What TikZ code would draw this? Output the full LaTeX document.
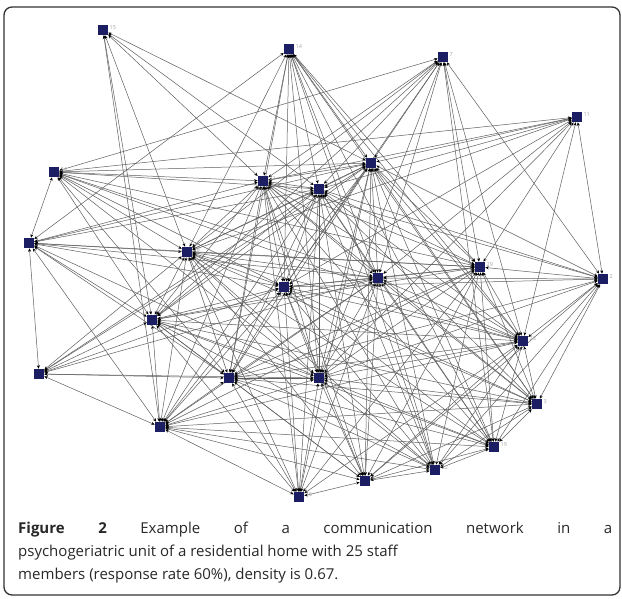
\documentclass[tikz,border=0pt]{standalone}
\usepackage{fontspec}
\setmainfont{Open Sans}
\usetikzlibrary{arrows.meta}
\definecolor{navy}{RGB}{28,30,100}
\definecolor{edgegray}{RGB}{95,95,95}
\definecolor{captxt}{RGB}{40,40,40}
\begin{document}
\begin{tikzpicture}[x=1pt,y=-1pt,
  nd/.style={minimum size=10pt,inner sep=0pt,outer sep=0.3pt,draw=none},
  lab/.style={font=\fontsize{5.5}{6}\selectfont,text=black!35,inner sep=0pt,anchor=west},
  edge/.style={draw=edgegray,line width=0.5pt,
    {Stealth[length=3.5pt,width=3pt,color=black]}-{Stealth[length=3.5pt,width=3pt,color=black]}},
  capt/.style={anchor=base west,inner sep=0pt,text=captxt,font=\fontsize{15}{17}\selectfont}]
\useasboundingbox (0,0) rectangle (622,599);
\fill[white] (0,0) rectangle (622,599);
\draw[line width=1.3pt,black!80,rounded corners=8pt] (4,7) rectangle (620,595);
% nodes
\node[nd] (n15) at (103,30) {};
\node[nd] (n14) at (289,49) {};
\node[nd] (n7)  at (443,57) {};
\node[nd] (n11) at (577,117) {};
\node[nd] (n24) at (54,172) {};
\node[nd] (n21) at (263,181) {};
\node[nd] (nA)  at (371,163) {};
\node[nd] (nB)  at (319,189) {};
\node[nd] (n5)  at (29,243) {};
\node[nd] (n18) at (187,252) {};
\node[nd] (nC)  at (378,278) {};
\node[nd] (nD)  at (284,287) {};
\node[nd] (n29) at (480,267) {};
\node[nd] (n2)  at (603,279) {};
\node[nd] (nE)  at (152,320) {};
\node[nd] (n23) at (523,341) {};
\node[nd] (nF)  at (39,374) {};
\node[nd] (nG)  at (229,378) {};
\node[nd] (n10) at (319,378) {};
\node[nd] (n3)  at (537,404) {};
\node[nd] (nH)  at (160,427) {};
\node[nd] (n19) at (494,447) {};
\node[nd] (n22) at (435,470) {};
\node[nd] (n4)  at (365,481) {};
\node[nd] (n16) at (299,497) {};
% central all-pairs edges
\foreach \a [count=\i] in {n21,nA,nB,n18,nC,nD,n29,nE,n23,nG,n10,n3,nH,n19,n22,n4}{
  \foreach \b [count=\j] in {n21,nA,nB,n18,nC,nD,n29,nE,n23,nG,n10,n3,nH,n19,n22,n4}{
    \ifnum\j>\i \draw[edge] (\a) -- (\b);\fi
  }
}
% peripheral edges
\foreach \a/\b in {
  n15/n18,n15/nE,n15/n21,n15/nB,n15/nA,n15/nH,
  n14/n5,n14/n21,n14/nB,n14/nA,n14/nD,n14/nC,n14/n10,n14/nG,n14/n18,n14/n29,n14/n23,n14/n3,n14/n22,n14/n19,
  n7/n21,n7/nB,n7/nA,n7/nD,n7/nC,n7/n18,n7/n10,n7/n29,n7/n23,n7/n2,n7/n19,n7/nE,n7/n24,
  n11/n21,n11/nA,n11/nB,n11/nC,n11/nD,n11/n29,n11/n23,n11/n2,n11/n10,n11/n18,n11/n24,
  n24/n5,n24/n21,n24/nB,n24/nA,n24/nC,n24/n18,n24/nD,n24/nE,n24/nG,n24/n10,n24/n29,n24/n23,
  n5/nF,n5/n21,n5/nB,n5/nA,n5/nC,n5/n18,n5/nE,n5/nG,n5/n10,n5/nH,n5/n29,n5/nD,
  nF/nE,nF/n18,nF/nG,nF/nH,nF/nD,nF/nB,nF/nA,nF/n10,nF/nC,
  n16/nH,n16/nG,n16/n10,n16/nE,n16/nD,n16/nC,n16/n18,n16/n21,n16/nB,n16/n29,n16/n23,n16/n4,n16/nA,
  n2/n29,n2/n23,n2/n3,n2/n19,n2/nC,n2/nA,n2/nB,n2/n21,n2/n10,n2/n22,n2/n4,n2/nD,n2/nG}
  \draw[edge] (\a) -- (\b);
% squares on top
\foreach \n in {n15,n14,n7,n11,n24,n21,nA,nB,n5,n18,nC,nD,n29,n2,nE,n23,nF,nG,n10,n3,nH,n19,n22,n4,n16}
  \fill[navy] ([shift={(-5pt,-5pt)}]\n.center) rectangle ([shift={(5pt,5pt)}]\n.center);
% labels
\foreach \n/\t in {n15/15,n14/14,n7/7,n11/11,n24/24,n21/21,n18/18,n29/29,n2/2,n23/23,n10/10,n3/3,n19/19,n22/22,n4/4,n16/16}
  \node[lab] at ([xshift=6.5pt,yshift=2pt]\n.center) {\t};
% caption
\node[capt] at (18,533) {\makebox[594pt][s]{\textbf{Figure 2} Example of a communication network in a}};
\node[capt] at (18,556) {psychogeriatric unit of a residential home with 25 staff};
\node[capt] at (18,579) {members (response rate 60\%), density is 0.67.};
\end{tikzpicture}
\end{document}
